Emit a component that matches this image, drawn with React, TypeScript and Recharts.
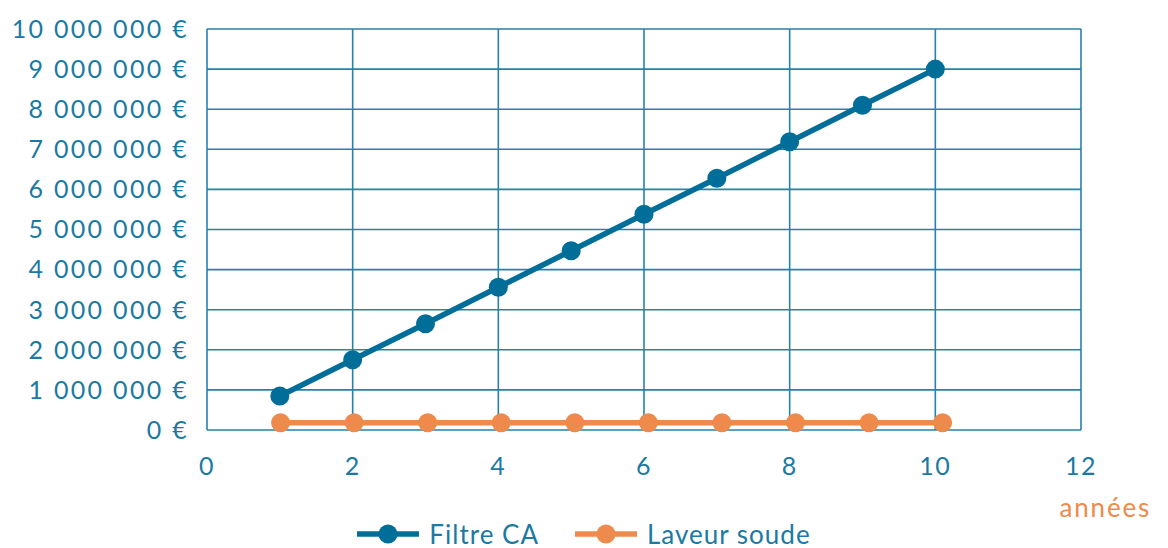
import React from "react";
import { LineChart, Line, XAxis, YAxis, CartesianGrid, Legend } from "recharts";

// years on the x axis
const years = [1, 2, 3, 4, 5, 6, 7, 8, 9, 10];
const filtreCA = [850000, 1750000, 2650000, 3560000, 4470000, 5380000, 6280000, 7190000, 8100000, 9000000];

// the orange points sit a touch right of the integer years in the original
const laveurYears = [1.01, 2.02, 3.03, 4.04, 5.05, 6.06, 7.07, 8.08, 9.09, 10.1];
const laveurSoude = [180000, 180000, 180000, 180000, 180000, 180000, 180000, 180000, 180000, 180000];

const xTicks = [0, 2, 4, 6, 8, 10, 12];
const yTicks = [0, 1000000, 2000000, 3000000, 4000000, 5000000, 6000000, 7000000, 8000000, 9000000, 10000000];

const SERIES = [
  { name: "Filtre CA", colour: "#006E98" },
  { name: "Laveur soude", colour: "#EE8A4B" },
];

const TEXT_BLUE = "#1A7AA2";
const GRID_BLUE = "#2583A8";
const FONT = "Lato, 'DejaVu Sans', sans-serif";

const filtreData = years.map((x, i) => ({ x, v: filtreCA[i] }));
const laveurData = laveurYears.map((x, i) => ({ x, v: laveurSoude[i] }));

const euro = (v: number) => String(v).replace(/\B(?=(\d{3})+(?!\d))/g, " ") + " €";

function UnitLabel(props: any) {
  const vb = props.viewBox || { x: 0, y: 0, width: 0, height: 0 };
  return (
    <text
      x={vb.x + vb.width + 70}
      y={vb.y + 87}
      textAnchor="end"
      fill="#EE8A4B"
      fontSize={26}
      fontFamily={FONT}
      letterSpacing={1.8}
    >
      années
    </text>
  );
}

function LegendContent() {
  return (
    <div
      style={{
        display: "flex",
        justifyContent: "center",
        alignItems: "center",
        gap: 36,
        fontFamily: FONT,
        fontSize: 26,
        letterSpacing: 1,
        color: TEXT_BLUE,
      }}
    >
      {SERIES.map((s) => (
        <div key={s.name} style={{ display: "flex", alignItems: "center", gap: 10 }}>
          <svg width={62} height={24}>
            <line x1={0} y1={12} x2={62} y2={12} stroke={s.colour} strokeWidth={5.5} />
            <circle cx={31} cy={12} r={9.5} fill={s.colour} />
          </svg>
          <span>{s.name}</span>
        </div>
      ))}
    </div>
  );
}

export default function App() {
  return (
    <div style={{ width: 1168, height: 548, background: "#ffffff" }}>
      <style>{"body{margin:0}"}</style>
      <LineChart width={1168} height={548} margin={{ top: 29, right: 87, bottom: 88, left: 0 }}>
        <CartesianGrid stroke={GRID_BLUE} strokeWidth={1.6} horizontal vertical />
        <XAxis
          dataKey="x"
          type="number"
          domain={[0, 12]}
          ticks={xTicks}
          allowDataOverflow
          axisLine={false}
          tickLine={false}
          tickMargin={21}
          height={30}
          tick={{ fill: TEXT_BLUE, fontSize: 25, fontFamily: FONT, letterSpacing: 1.5 }}
          label={<UnitLabel />}
        />
        <YAxis
          type="number"
          domain={[0, 10000000]}
          ticks={yTicks}
          width={207}
          axisLine={false}
          tickLine={false}
          tickMargin={12}
          tickFormatter={euro}
          tick={{ fill: TEXT_BLUE, fontSize: 25, fontFamily: FONT, letterSpacing: 2.3 }}
        />
        <Legend
          layout="horizontal"
          align="center"
          verticalAlign="middle"
          wrapperStyle={{ top: 518, left: 0, width: 1168 }}
          content={<LegendContent />}
        />
        <Line
          data={laveurData}
          dataKey="v"
          name={SERIES[1].name}
          stroke={SERIES[1].colour}
          strokeWidth={5.5}
          dot={{ r: 9.5, fill: SERIES[1].colour, stroke: "none" }}
          activeDot={false}
          isAnimationActive={false}
        />
        <Line
          data={filtreData}
          dataKey="v"
          name={SERIES[0].name}
          stroke={SERIES[0].colour}
          strokeWidth={5.5}
          dot={{ r: 9.5, fill: SERIES[0].colour, stroke: "none" }}
          activeDot={false}
          isAnimationActive={false}
        />
      </LineChart>
    </div>
  );
}
